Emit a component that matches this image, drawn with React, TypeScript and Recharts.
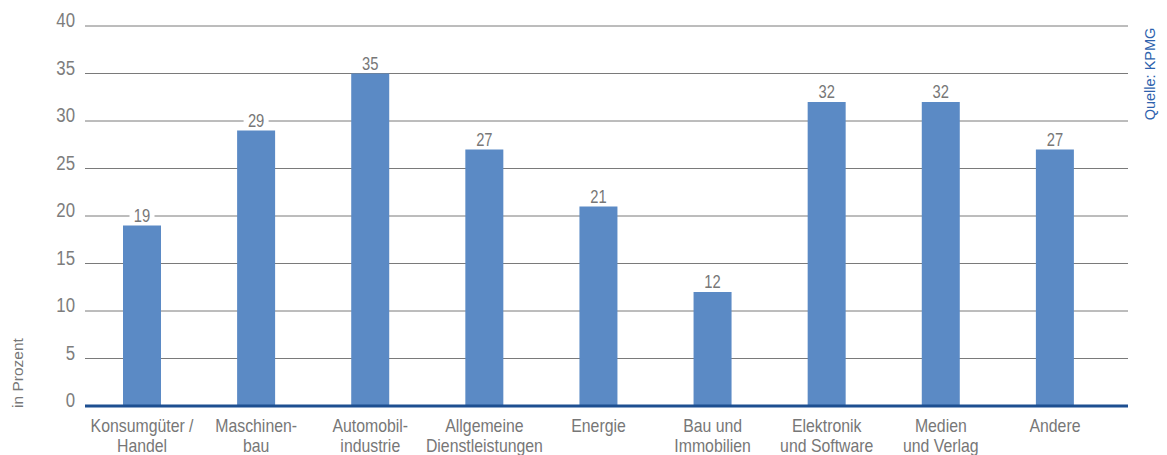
import React from "react";
import { BarChart, Bar, XAxis, YAxis, CartesianGrid, LabelList } from "recharts";

// Branchen (zweizeilige Achsenbeschriftungen, Zeilen mit "\n" getrennt)
const branchen: string[] = [
  "Konsumgüter /\nHandel",
  "Maschinen-\nbau",
  "Automobil-\nindustrie",
  "Allgemeine\nDienstleistungen",
  "Energie",
  "Bau und\nImmobilien",
  "Elektronik\nund Software",
  "Medien\nund Verlag",
  "Andere",
];

// Anteile in Prozent
const anteile: number[] = [19, 29, 35, 27, 21, 12, 32, 32, 27];

// Y-Achsen-Ticks
const yTicks: number[] = [0, 5, 10, 15, 20, 25, 30, 35, 40];

const data = branchen.map((name, i) => ({ name, wert: anteile[i] }));

const FONT = '"Liberation Sans", Arial, sans-serif';
const GRAU = "#777777";
const BALKEN = "#5b8ac5";
const ACHSE = "#1d4f91";

// Schmal laufende Schrift über horizontale Skalierung
const Schmal = ({ x, y, sx, size, anchor = "middle", fill = GRAU, children }: any) => (
  <text
    transform={`translate(${x},${y}) scale(${sx},1)`}
    textAnchor={anchor}
    fill={fill}
    fontSize={size}
    fontFamily={FONT}
  >
    {children}
  </text>
);

const YTick = (props: any) => {
  const { x, y, payload } = props;
  return (
    <Schmal x={x - 10} y={y + 1} sx={0.8} size={21} anchor="end" fill="#7d7d7d">
      {payload.value}
    </Schmal>
  );
};

const XTick = (props: any) => {
  const { x, y, payload } = props;
  const lines = String(payload.value).split("\n");
  return (
    <g>
      {lines.map((l: string, i: number) => (
        <Schmal key={i} x={x} y={y + 26 + i * 20} sx={0.88} size={18}>
          {l}
        </Schmal>
      ))}
    </g>
  );
};

const WertLabel = (props: any) => {
  const { x, y, width, value } = props;
  const cx = x + width / 2;
  const w = String(value).length * 8.5 + 8;
  return (
    <g>
      <rect x={cx - w / 2} y={y - 18} width={w} height={15} fill="#ffffff" />
      <Schmal x={cx} y={y - 4} sx={0.82} size={18}>
        {value}
      </Schmal>
    </g>
  );
};

export default function App() {
  return (
    <div style={{ position: "absolute", left: 0, top: 0, width: 1167, height: 455, background: "#fff" }}>
      <BarChart
        width={1167}
        height={455}
        data={data}
        margin={{ top: 26, right: 39, bottom: 0, left: 0 }}
      >
        <CartesianGrid vertical={false} stroke="#7a7a7a" strokeWidth={1} />
        <XAxis
          dataKey="name"
          height={49}
          interval={0}
          tickLine={false}
          tickSize={0}
          tickMargin={0}
          axisLine={{ stroke: ACHSE, strokeWidth: 3 }}
          tick={<XTick />}
          padding={{ left: 0, right: 16 }}
        />
        <YAxis
          width={85}
          domain={[0, 40]}
          ticks={yTicks}
          axisLine={false}
          tickLine={false}
          tickSize={0}
          tickMargin={0}
          tick={<YTick />}
        />
        <Bar dataKey="wert" fill={BALKEN} barSize={38} isAnimationActive={false}>
          <LabelList dataKey="wert" content={<WertLabel />} />
        </Bar>
        <text
          transform="translate(23,373) rotate(-90)"
          textAnchor="middle"
          fill={GRAU}
          fontSize={15.5}
          fontFamily={FONT}
        >
          in Prozent
        </text>
        <text
          transform="translate(1155,74) rotate(-90)"
          textAnchor="middle"
          fill="#2e62ad"
          fontSize={14.5}
          fontFamily={FONT}
        >
          Quelle: KPMG
        </text>
      </BarChart>
    </div>
  );
}
